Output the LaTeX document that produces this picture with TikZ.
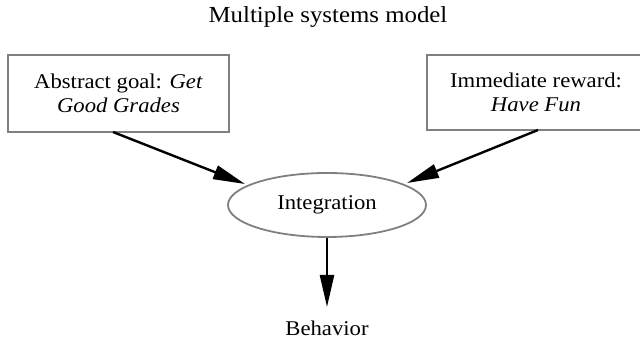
\documentclass[tikz,border=0pt]{standalone}
\usepackage{fontspec}
\setmainfont{Liberation Serif}[FakeStretch=1.08]
\usetikzlibrary{shapes.geometric,arrows.meta}
\tikzset{
  box/.style={draw=black!50, line width=1.8pt, minimum width=221pt, minimum height=77pt, align=center, inner sep=0pt},
  oval/.style={ellipse, draw=black!50, line width=1.8pt, minimum width=198pt, minimum height=64pt, inner sep=0pt},
  flow/.style={line width=2.4pt, -{Triangle[length=32pt,width=14pt]}},
  txt/.style={font=\fontsize{21}{24}\selectfont}
}
\begin{document}
\begin{tikzpicture}[x=1pt,y=1pt]
  \clip (0,0) rectangle (640,339);
  \useasboundingbox (0,0) rectangle (640,339);
  \node[font=\fontsize{23}{26}\selectfont] (title) at (328,322) {Multiple systems model};
  \node[box,txt] (goal) at (118.5,245.5) {Abstract goal: \textit{Get}\\\textit{Good Grades}};
  \node[box,txt,minimum width=218pt,minimum height=75pt] (reward) at (536,246.5) {Immediate reward:\\\textit{Have Fun}};
  \node[oval,txt] (integ) at (327,134) {Integration};
  \node[txt] (beh) at (327,11) {Behavior};
  \coordinate (gfoot) at (113,207);
  \coordinate (rfoot) at (538,209);
  \coordinate (ltip) at (245,155);
  \coordinate (rtip) at (407,156);
  \coordinate (dtip) at (327,32);
  \draw[flow] (gfoot) -- (ltip);
  \draw[flow] (rfoot) -- (rtip);
  \draw[flow] (integ.south) -- (dtip);
\end{tikzpicture}
\end{document}
